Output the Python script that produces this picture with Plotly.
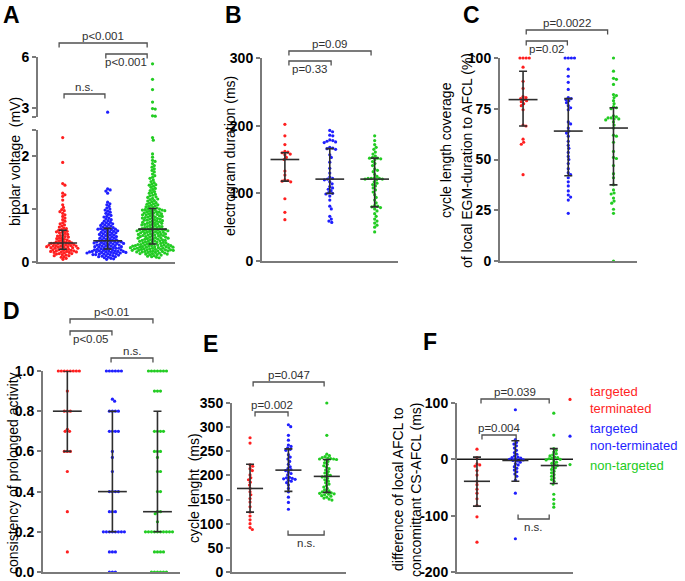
import numpy as np
import plotly.graph_objects as go

W, H = 685, 581
FONT = "Liberation Sans, Arial, sans-serif"

GROUPS = ["targeted terminated", "targeted non-terminated", "non-targeted"]
COLORS = ["#ff1f1f", "#1f1fff", "#22cc22"]
GROUP_X = [1, 2, 3]

# ---------------- Panel A: bipolar voltage (mV) ----------------
A_red = [0.05, 0.07, 0.09, 0.10, 0.12, 0.12, 0.13, 0.14, 0.15, 0.16, 0.16, 0.17, 0.18, 0.18, 0.19,
         0.19, 0.20, 0.20, 0.21, 0.21, 0.22, 0.22, 0.23, 0.23, 0.24,
         0.25, 0.25, 0.26, 0.26, 0.27, 0.27, 0.28, 0.28, 0.29, 0.29, 0.30, 0.30, 0.30, 0.31, 0.31,
         0.32, 0.32, 0.33, 0.33, 0.34, 0.34, 0.35, 0.35, 0.36, 0.36,
         0.37, 0.38, 0.38, 0.39, 0.40, 0.41, 0.42, 0.43, 0.44, 0.45, 0.46, 0.47, 0.48, 0.49, 0.50,
         0.51, 0.52, 0.54, 0.55, 0.56, 0.57, 0.58, 0.59, 0.60, 0.61,
         0.63, 0.64, 0.66, 0.68, 0.70, 0.72, 0.74, 0.77, 0.80, 0.83, 0.86, 0.89, 0.92, 0.95, 0.97,
         0.99, 1.03, 1.08, 1.17, 1.24, 1.27, 1.30, 1.45, 1.48, 1.88, 2.35]
A_blue = [0.05, 0.06, 0.07, 0.08, 0.09, 0.10, 0.10, 0.11, 0.12, 0.12, 0.13, 0.13, 0.14, 0.14, 0.15,
          0.15, 0.16, 0.16, 0.17, 0.17, 0.17, 0.18, 0.18, 0.18, 0.19, 0.19, 0.19, 0.20, 0.20, 0.20,
          0.21, 0.21, 0.21, 0.22, 0.22,
          0.23, 0.23, 0.24, 0.24, 0.25, 0.25, 0.26, 0.26, 0.27, 0.27, 0.28, 0.28, 0.29, 0.29, 0.30,
          0.30, 0.31, 0.31, 0.32, 0.32, 0.33, 0.33, 0.34, 0.34, 0.35, 0.35, 0.36, 0.36, 0.37, 0.37,
          0.38, 0.38, 0.38, 0.39, 0.39,
          0.40, 0.40, 0.41, 0.42, 0.42, 0.43, 0.44, 0.45, 0.45, 0.46, 0.47, 0.48, 0.48, 0.49, 0.50,
          0.51, 0.51, 0.52, 0.53, 0.54, 0.54, 0.55, 0.56, 0.57, 0.57, 0.58, 0.59, 0.60, 0.60, 0.61,
          0.62, 0.62, 0.63, 0.63, 0.64,
          0.65, 0.66, 0.67, 0.68, 0.69, 0.70, 0.71, 0.72, 0.73, 0.74, 0.75, 0.77, 0.78, 0.80, 0.81,
          0.83, 0.85, 0.86, 0.88, 0.90, 0.92, 0.94, 0.96, 0.98, 1.00, 1.02, 1.05, 1.08, 1.10, 1.13,
          1.30, 1.34, 1.36, 1.38, 2.78]
A_green = [0.08, 0.09, 0.10, 0.11, 0.12, 0.13, 0.14, 0.14, 0.15, 0.15, 0.16, 0.16, 0.17, 0.17, 0.18,
           0.18, 0.19, 0.19, 0.20, 0.20, 0.20, 0.21, 0.21, 0.21, 0.22, 0.22, 0.22, 0.23, 0.23, 0.23,
           0.24, 0.24, 0.24, 0.25, 0.25, 0.25, 0.26, 0.26, 0.26, 0.27, 0.27, 0.27, 0.28, 0.28, 0.28,
           0.29, 0.29, 0.29, 0.30, 0.30, 0.30, 0.31, 0.31, 0.31, 0.32, 0.32, 0.32, 0.33, 0.33, 0.33,
           0.34, 0.34, 0.35, 0.35, 0.36, 0.36, 0.37, 0.37, 0.38, 0.38, 0.39, 0.39, 0.40, 0.40, 0.41,
           0.41, 0.42, 0.42, 0.43, 0.43, 0.44, 0.44, 0.45, 0.45, 0.46, 0.46, 0.47, 0.47, 0.48, 0.48,
           0.49, 0.49, 0.50, 0.50, 0.51, 0.51, 0.52, 0.52, 0.53, 0.53, 0.54, 0.54, 0.55, 0.55, 0.56,
           0.56, 0.57, 0.57, 0.58, 0.58, 0.59, 0.59, 0.60, 0.60, 0.60, 0.61, 0.61, 0.61, 0.62, 0.62,
           0.63, 0.63, 0.64, 0.65, 0.65, 0.66, 0.67, 0.67, 0.68, 0.69, 0.69, 0.70, 0.71, 0.71, 0.72,
           0.73, 0.73, 0.74, 0.75, 0.75, 0.76, 0.77, 0.77, 0.78, 0.79, 0.79, 0.80, 0.81, 0.81, 0.82,
           0.83, 0.83, 0.84, 0.85, 0.85, 0.86, 0.87, 0.87, 0.88, 0.89, 0.89, 0.90, 0.91, 0.91, 0.92,
           0.93, 0.93, 0.94, 0.95, 0.95, 0.96, 0.97, 0.97, 0.98, 0.98, 0.99, 0.99, 1.00, 1.00, 1.01,
           1.02, 1.03, 1.04, 1.05, 1.06, 1.07, 1.08, 1.09, 1.10, 1.11, 1.12, 1.14, 1.15, 1.16, 1.18,
           1.19, 1.20, 1.22, 1.23, 1.25, 1.26, 1.28, 1.30, 1.31, 1.33, 1.35, 1.37, 1.39, 1.41, 1.43,
           1.45, 1.46, 1.47, 1.50, 1.52, 1.55, 1.58, 1.60, 1.63, 1.66, 1.70, 1.73, 1.76, 1.79, 1.82,
           1.86, 1.90, 1.92, 1.98, 2.04, 2.30, 2.35, 2.55, 2.57, 2.96, 2.99, 3.37, 4.10, 4.70, 5.60]
A_median = [0.36, 0.40, 0.62]
A_q1 = [0.24, 0.245, 0.34]
A_q3 = [0.60, 0.635, 1.01]
A_ticks_low = [0, 1, 2]
A_ticks_up = [3, 6]
A_break = 2.5

# ---------------- Panel B: electrogram duration (ms) ----------------
B_red = [202, 185, 172, 162, 161, 160, 158, 157, 153, 150, 133, 127, 120, 119, 118, 117, 92, 72, 61]
B_blue = [193, 191, 186, 185, 179, 178, 177, 176, 175, 168, 167, 166, 165, 157, 153, 146, 137, 130,
          124, 122, 121, 120, 117, 114, 110, 108, 106, 104, 101, 100, 99, 96, 90, 81, 77, 66, 62, 59, 57]
B_green = [185, 178, 172, 168, 165, 161, 158, 155, 153, 152, 152, 151, 150, 147, 144, 141, 136, 134,
           132, 128, 125, 123, 122, 122, 122, 121, 121, 120, 117, 115, 113, 111, 108, 105, 102, 98,
           94, 90, 86, 82, 81, 80, 79, 77, 74, 70, 66, 62, 59, 56, 53, 50, 43]
B_median = [150, 121, 121]
B_q1 = [118, 100, 80]
B_q3 = [160, 166, 152]
B_ticks = [0, 100, 200, 300]

# ---------------- Panel C: cycle length coverage (%) ----------------
C_red = [100, 100, 100, 100, 95.5, 88.5, 85, 81, 80.5, 80, 79.5, 79, 78.5, 77.5, 76.5, 74.5,
         67, 66.5, 60, 58.5, 57.5, 42.5]
C_blue = [100, 100, 100, 100, 94.5, 91, 88, 84.5, 80.5, 80, 79.5, 79, 78, 76.5, 75.5, 74.5, 68.5,
          67.5, 65.5, 64, 63, 61.5, 59, 57, 55.5, 53.5, 51.5, 50, 48, 45.5, 43.5, 42.5, 41, 39, 37,
          34.5, 32.5, 31.5, 30, 23.5]
C_green = [100, 93.5, 90, 89.5, 87, 82, 81.5, 80.5, 79, 77.5, 76, 75.5, 75, 71.5, 71, 70.5, 70.5,
           70, 70, 69.5, 68.5, 67, 65.5, 62, 61.5, 58.5, 54, 51, 50.5, 47, 43, 41, 37.5, 35, 33.5,
           33, 31, 29.5, 28.5, 25.5, 23.5, 0]
C_median = [79.5, 64, 65.5]
C_q1 = [66.5, 42, 37.5]
C_q3 = [93.5, 80, 75.5]
C_ticks = [0, 25, 50, 75, 100]

# ---------------- Panel D: consistency of prolonged activity ----------------
D_red = [1.0, 1.0, 1.0, 1.0, 1.0, 1.0, 1.0, 1.0, 0.9, 0.8, 0.8, 0.8, 0.71, 0.7, 0.7, 0.6, 0.6, 0.6,
         0.5, 0.3, 0.1]
D_blue = [1.0, 1.0, 1.0, 1.0, 1.0, 1.0, 0.86, 0.85, 0.8, 0.8, 0.8, 0.8, 0.7, 0.7, 0.7, 0.7, 0.6, 0.57,
          0.5, 0.4, 0.4, 0.4, 0.4, 0.3, 0.3, 0.3, 0.2, 0.2, 0.2, 0.2, 0.2, 0.2, 0.2, 0.2, 0.1, 0.1,
          0.1, 0.0, 0.0, 0.0]
D_green = [1.0, 1.0, 1.0, 1.0, 1.0, 1.0, 1.0, 0.9, 0.9, 0.9, 0.7, 0.7, 0.7, 0.7, 0.6, 0.6, 0.6, 0.57,
           0.5, 0.5, 0.4, 0.4, 0.3, 0.3, 0.29, 0.25, 0.2, 0.2, 0.2, 0.2, 0.2, 0.2, 0.2, 0.2, 0.2,
           0.2, 0.1, 0.1, 0.1, 0.1, 0.0, 0.0, 0.0, 0.0, 0.0, 0.0]
D_median = [0.8, 0.4, 0.3]
D_q1 = [0.6, 0.2, 0.2]
D_q3 = [1.0, 0.8, 0.8]
D_ticks = [0.0, 0.2, 0.4, 0.6, 0.8, 1.0]

# ---------------- Panel E: cycle length (ms) ----------------
E_red = [278, 267, 222, 219, 214, 210, 201, 195, 191, 186, 180, 173, 166, 160, 152, 145, 135, 124,
         116, 108, 100, 92, 88]
E_blue = [305, 301, 283, 273, 263, 260, 257, 254, 252, 243, 238, 234, 229, 223, 218, 214, 212, 210,
          207, 204, 201, 196, 195, 194, 193, 192, 190, 188, 185, 180, 173, 166, 155, 144, 130]
E_green = [350, 283, 244, 241, 239, 237, 236, 235, 234, 234, 233, 232, 229, 226, 223, 220, 217, 214,
           211, 208, 205, 202, 200, 198, 197, 194, 191, 188, 185, 182, 179, 176, 173, 170, 168, 166,
           165, 164, 163, 162, 161, 160, 158, 157, 155, 153, 151, 149]
E_median = [173, 211, 198]
E_q1 = [124, 167, 165]
E_q3 = [223, 255, 233]
E_ticks = [0, 50, 100, 150, 200, 250, 300, 350]

# ---------------- Panel F: difference of local AFCL to CS-AFCL (ms) ----------------
F_red = [18, 3, -8, -10, -12, -20, -28, -39, -45, -53, -60, -70, -82, -102, -147]
F_blue = [88, 35, 30, 27, 24, 20, 16, 12, 9, 6, 4, 3, 2, 1, 0, -1, -2, -3, -5, -8, -10, -13, -16,
          -19, -22, -26, -30, -37, -60, -141]
F_green = [82, 43, 19, 16, 13, 10, 8, 6, 4, 3, 2, 1, 0, -1, -3, -5, -7, -9, -11, -13, -15, -18, -21,
           -24, -27, -30, -33, -36, -39, -44, -62, -71, -79, -85]
F_median = [-39, -2, -11]
F_q1 = [-83, -39, -43]
F_q3 = [4, 33, 19]
F_ticks = [-200, -100, 0, 100]

# ---------------- layout geometry (pixels) ----------------
BOTTOM = 572
PANELS = {
    "A": dict(n=1, xpx=(38, 175), xr=(0.45, 3.5), ypx=(129.6, 262), yr=(0, A_break),
              ticks=A_ticks_low, fmt=None, d=2.75),
    "B": dict(n=2, xpx=(262, 398), xr=(0.49, 3.52), ypx=(58, 261), yr=(0, 300), ticks=B_ticks,
              fmt=None, d=3.1),
    "C": dict(n=3, xpx=(500, 637), xr=(0.49, 3.52), ypx=(58, 261), yr=(0, 100), ticks=C_ticks,
              fmt=None, d=3.1),
    "D": dict(n=4, xpx=(43, 180), xr=(0.46, 3.5), ypx=(371, BOTTOM), yr=(0, 1), ticks=D_ticks,
              fmt="%.1f", d=3.0),
    "E": dict(n=5, xpx=(232, 346), xr=(0.53, 3.5), ypx=(403, BOTTOM), yr=(0, 350), ticks=E_ticks,
              fmt=None, d=3.0),
    "F": dict(n=6, xpx=(457, 573), xr=(0.48, 3.5), ypx=(403, BOTTOM), yr=(-200, 100), ticks=F_ticks,
              fmt=None, d=3.0),
}
A_UP = dict(n=7, ypx=(57, 117), yr=(A_break, 6))

AXIS_COLOR = "#7a7a7a"
BAR_COLOR = "#2e2e2e"
MARKER_SIZE = 3.2

fig = go.Figure()


def ref(letter, n):
    return letter if n == 1 else f"{letter}{n}"


def key(letter, n):
    return f"{letter}axis" if n == 1 else f"{letter}axis{n}"


def make_axes(n, xpx, xr, ypx, yr, tickvals, ticktext, show_xline=True):
    fig.layout[key("x", n)] = dict(
        domain=[xpx[0] / W, xpx[1] / W], range=list(xr), anchor=ref("y", n),
        showline=show_xline, linecolor=AXIS_COLOR, linewidth=2, ticks="", showticklabels=False,
        showgrid=False, zeroline=False, fixedrange=True, automargin=False)
    fig.layout[key("y", n)] = dict(
        domain=[1 - ypx[1] / H, 1 - ypx[0] / H], range=list(yr), anchor=ref("x", n),
        showline=True, linecolor=AXIS_COLOR, linewidth=2, ticks="outside", ticklen=4,
        tickwidth=1.5, tickcolor=AXIS_COLOR, tickvals=tickvals, ticktext=ticktext,
        tickfont=dict(family=FONT, size=14, color="black", weight="bold"),
        ticklabeloverflow="allow",
        showgrid=False, zeroline=False, fixedrange=True, automargin=False)


def ypix_fun(p):
    (top, bot), (lo, hi) = p["ypx"], p["yr"]
    return lambda v: bot - (v - lo) * (bot - top) / (hi - lo)


def swarm(ypix, d):
    order = np.argsort(ypix, kind="stable")
    placed = []
    xs = np.zeros(len(ypix))
    for i in order:
        y = ypix[i]
        near = [(px, py) for px, py in placed if abs(py - y) < d]
        cands = [0.0]
        for px, py in near:
            dx = np.sqrt(d * d - (py - y) ** 2)
            cands += [px + dx, px - dx]
        cands.sort(key=lambda c: (round(abs(c), 6), -c))
        for c in cands:
            if all((c - px) ** 2 + (y - py) ** 2 >= d * d - 1e-6 for px, py in near):
                xs[i] = c
                break
        placed.append((xs[i], y))
    return xs


LEGEND_NAMES = [
    "<span style='color:#ff1f1f'>targeted</span><br><span style='color:#ff1f1f'>terminated</span>",
    "<span style='color:#1f1fff'>targeted</span><br><span style='color:#1f1fff'>non-terminated</span>",
    "<span style='color:#22cc22'>non-targeted</span>",
]


def add_points(letter, data, legend=False):
    p = PANELS[letter]
    n = p["n"]
    xppu = (p["xpx"][1] - p["xpx"][0]) / (p["xr"][1] - p["xr"][0])
    if letter == "A":
        low = ypix_fun(p)
        up = ypix_fun(A_UP)
        yp_f = lambda v: low(v) if v <= A_break else up(v)
    else:
        yp_f = ypix_fun(p)
    for gi, (vals, col) in enumerate(zip(data, COLORS)):
        vals = np.array(vals, dtype=float)
        ypx = np.array([yp_f(v) for v in vals])
        offs = swarm(ypx, p["d"]) / xppu
        xs = GROUP_X[gi] + offs
        if letter == "A":
            m_low = vals <= A_break
            fig.add_trace(go.Scatter(x=xs[m_low], y=vals[m_low], mode="markers", xaxis="x", yaxis="y",
                                     marker=dict(size=MARKER_SIZE, color=col), cliponaxis=False,
                                     showlegend=False, hoverinfo="skip"))
            if (~m_low).any():
                fig.add_trace(go.Scatter(x=xs[~m_low], y=vals[~m_low], mode="markers", xaxis="x7",
                                         yaxis="y7", marker=dict(size=MARKER_SIZE, color=col),
                                         cliponaxis=False, showlegend=False, hoverinfo="skip"))
        else:
            fig.add_trace(go.Scatter(x=xs, y=vals, mode="markers", xaxis=ref("x", n), yaxis=ref("y", n),
                                     marker=dict(size=MARKER_SIZE, color=col), cliponaxis=False,
                                     name=LEGEND_NAMES[gi], showlegend=legend, hoverinfo="skip"))


def add_summary(letter, med, q1, q3, halfw):
    n = PANELS[letter]["n"]
    med, q1, q3 = np.array(med, float), np.array(q1, float), np.array(q3, float)
    fig.add_trace(go.Scatter(
        x=GROUP_X, y=med, mode="markers", xaxis=ref("x", n), yaxis=ref("y", n),
        marker=dict(size=1, color="rgba(0,0,0,0)"), showlegend=False, hoverinfo="skip", cliponaxis=False,
        error_y=dict(type="data", symmetric=False, array=q3 - med, arrayminus=med - q1,
                     width=4, thickness=1.6, color=BAR_COLOR)))
    xs, ys = [], []
    for g, m in zip(GROUP_X, med):
        xs += [g - halfw, g + halfw, None]
        ys += [m, m, None]
    fig.add_trace(go.Scatter(x=xs, y=ys, mode="lines", xaxis=ref("x", n), yaxis=ref("y", n),
                             line=dict(color=BAR_COLOR, width=1.6), showlegend=False,
                             hoverinfo="skip", cliponaxis=False))


def bracket(letter, x0, x1, ypx, text, text_below=False, legs_up=False, leg=4.5):
    n = PANELS[letter]["n"]
    yl = 1 - ypx / H
    yleg = 1 - (ypx - leg) / H if legs_up else 1 - (ypx + leg) / H
    path = f"M {x0},{yleg} L {x0},{yl} L {x1},{yl} L {x1},{yleg}"
    fig.add_shape(type="path", path=path, xref=ref("x", n), yref="paper",
                  line=dict(color="#505050", width=1.3))
    ty = ypx + 7.5 if text_below else ypx - 7
    fig.add_annotation(x=(x0 + x1) / 2, y=1 - ty / H, xref=ref("x", n), yref="paper", text=text,
                       showarrow=False, xanchor="center", yanchor="middle",
                       font=dict(family=FONT, size=11.5, color="#303030"))


# axes
for letter, p in PANELS.items():
    fmt = p["fmt"]
    tt = [fmt % t if fmt else str(t) for t in p["ticks"]]
    tv = list(p["ticks"])
    if letter == "A":
        tv = tv + [A_break]
        tt = tt + [""]
    make_axes(p["n"], p["xpx"], p["xr"], p["ypx"], p["yr"], tv, tt)
# upper segment of broken axis in A
make_axes(7, PANELS["A"]["xpx"], PANELS["A"]["xr"], A_UP["ypx"], A_UP["yr"],
          A_ticks_up + [A_break], [str(t) for t in A_ticks_up] + [""], show_xline=False)

# zero line in F
fig.add_shape(type="line", xref="x6 domain", x0=0, x1=1, yref="y6", y0=0, y1=0,
              line=dict(color="#1a1a1a", width=1.5), layer="below")

# data
add_points("A", [A_red, A_blue, A_green])
add_points("B", [B_red, B_blue, B_green])
add_points("C", [C_red, C_blue, C_green])
add_points("D", [D_red, D_blue, D_green])
add_points("E", [E_red, E_blue, E_green])
add_points("F", [F_red, F_blue, F_green], legend=True)

add_summary("A", A_median, A_q1, A_q3, 0.32)
add_summary("B", B_median, B_q1, B_q3, 0.32)
add_summary("C", C_median, C_q1, C_q3, 0.32)
add_summary("D", D_median, D_q1, D_q3, 0.32)
add_summary("E", E_median, E_q1, E_q3, 0.34)
add_summary("F", F_median, F_q1, F_q3, 0.34)

# significance brackets
bracket("A", 0.92, 2.88, 43, "p&lt;0.001")
bracket("A", 1.96, 2.88, 54, "p&lt;0.001", text_below=True)
bracket("A", 1.03, 1.94, 94, "n.s.")
bracket("B", 1.09, 2.92, 51, "p=0.09")
bracket("B", 1.09, 2.03, 61, "p=0.33", text_below=True)
bracket("C", 1.07, 2.87, 30, "p=0.0022")
bracket("C", 1.07, 1.98, 41, "p=0.02", text_below=True)
bracket("D", 1.06, 2.90, 319, "p&lt;0.01")
bracket("D", 1.06, 1.99, 331, "p&lt;0.05", text_below=True)
bracket("D", 1.97, 2.90, 358, "n.s.")
bracket("E", 1.08, 2.93, 382, "p=0.047")
bracket("E", 1.13, 1.99, 412, "p=0.002")
bracket("E", 1.99, 2.93, 535, "n.s.", text_below=True, legs_up=True)
bracket("F", 1.105, 2.88, 399, "p=0.039")
bracket("F", 1.13, 2.02, 435, "p=0.004")
bracket("F", 2.07, 2.88, 519, "n.s.", text_below=True, legs_up=True)

# panel letters
for lab, (lx, ly) in {"A": (1, 15), "B": (223, 15), "C": (461, 15), "D": (1, 311),
                      "E": (201, 344), "F": (421, 342)}.items():
    fig.add_annotation(x=lx / W, y=1 - ly / H, xref="paper", yref="paper", text=f"<b>{lab}</b>",
                       showarrow=False, xanchor="left", yanchor="middle",
                       font=dict(family=FONT, size=23, color="black"))

# y-axis titles
YTITLES = [
    ("bipolar voltage  (mV)", 15, 162),
    ("electrogram duration (ms)", 230, 156),
    ("cycle length coverage", 446, 150),
    ("of local EGM-duration to AFCL (%)", 467, 161),
    ("consistency of prolonged activity", 13, 473),
    ("cycle lenght  (ms)", 194, 488),
    ("difference of local AFCL to", 398, 489),
    ("concomittant CS-AFCL (ms)", 416, 490),
]
for txt, cx, cy in YTITLES:
    fig.add_annotation(x=cx / W, y=1 - cy / H, xref="paper", yref="paper", text=txt, textangle=-90,
                       showarrow=False, xanchor="center", yanchor="middle",
                       font=dict(family=FONT, size=14, color="black"))

fig.update_layout(
    width=W, height=H, margin=dict(l=0, r=0, t=0, b=0, pad=0, autoexpand=False),
    paper_bgcolor="white", plot_bgcolor="white",
    font=dict(family=FONT),
    showlegend=True,
    legend=dict(x=550 / W, y=1 - 376 / H, xanchor="left", yanchor="top",
                bgcolor="rgba(0,0,0,0)", borderwidth=0,
                font=dict(family=FONT, size=13), itemclick=False, itemdoubleclick=False),
)

fig.write_html("out.html", config={"displayModeBar": False},
               post_script="document.body.style.margin='0';document.body.style.padding='0';")
